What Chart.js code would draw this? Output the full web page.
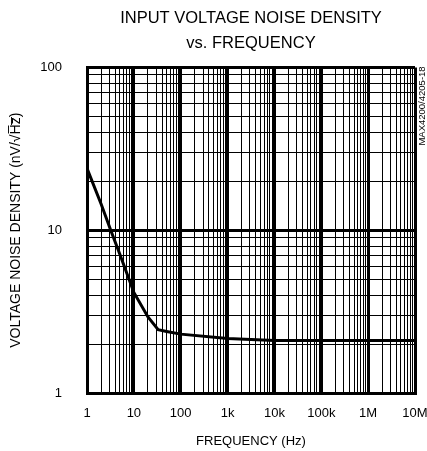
<!DOCTYPE html>
<html>
<head>
<meta charset="utf-8">
<script src="https://cdn.jsdelivr.net/npm/chart.js@4/dist/chart.umd.min.js"></script>
<style>
  html, body { margin: 0; padding: 0; background: #fff; }
  #wrap { position: relative; width: 427px; height: 451px; }
</style>
</head>
<body>
<div id="wrap"><canvas id="c"></canvas></div>
<script>
// ---- data ----
const FREQ_HZ = [1, 2, 3.3, 5, 10, 20, 33, 50, 100, 1000, 10000, 100000, 1000000, 10000000];
const NOISE_NV = [24, 14.5, 9.8, 7.15, 4.15, 2.93, 2.45, 2.39, 2.3, 2.16, 2.1, 2.1, 2.1, 2.1];

const X_DECADES = [1, 10, 100, 1000, 10000, 100000, 1000000, 10000000];
const X_LABELS = ['1', '10', '100', '1k', '10k', '100k', '1M', '10M'];
const Y_DECADES = [1, 10, 100];
const Y_LABELS = ['1', '10', '100'];
const MINOR_STEPS = [2, 3, 4, 5, 6, 7, 8, 9];

const TITLE_LINES = ['INPUT VOLTAGE NOISE DENSITY', 'vs. FREQUENCY'];
const X_TITLE = 'FREQUENCY (Hz)';
const Y_TITLE = 'VOLTAGE NOISE DENSITY (nV/\u221AH\u0305z\u0305)';
const NOTE = 'MAX4200/4205-18';

const FONT = "'Liberation Sans', Arial, Helvetica, sans-serif";

function gridTicks(decades) {
  const out = [];
  decades.forEach((d, i) => {
    out.push({ value: d });
    if (i < decades.length - 1) MINOR_STEPS.forEach(m => out.push({ value: d * m }));
  });
  return out;
}

function lineW(decades) {
  return (ctx) => {
    const v = ctx.tick ? ctx.tick.value : null;
    if (v === decades[0] || v === decades[decades.length - 1]) return 3;
    return decades.includes(v) ? 3 : 1;
  };
}

const notePlugin = {
  id: 'note',
  afterDraw(chart) {
    const c = chart.ctx;
    c.save();
    c.translate(422, 106);
    c.rotate(-Math.PI / 2);
    c.font = '9.5px ' + FONT;
    c.fillStyle = '#000';
    c.textAlign = 'center';
    c.textBaseline = 'middle';
    c.fillText(NOTE, 0, 0);
    c.restore();
  }
};

new Chart(document.getElementById('c'), {
  type: 'line',
  data: {
    datasets: [{
      data: FREQ_HZ.map((f, i) => ({ x: f, y: NOISE_NV[i] })),
      borderColor: '#000',
      borderWidth: 3,
      pointRadius: 0,
      tension: 0,
      fill: false
    }]
  },
  options: {
    responsive: true,
    maintainAspectRatio: false,
    animation: false,
    devicePixelRatio: 1,
    layout: { padding: { left: 0, right: 12, top: 0, bottom: 0 } },
    plugins: {
      legend: { display: false },
      tooltip: { enabled: false },
      title: {
        display: true,
        text: TITLE_LINES,
        fullSize: false,
        color: '#000',
        font: { family: FONT, size: 16.5, weight: 'normal', lineHeight: 1.5 },
        padding: { top: 6, bottom: 12 }
      }
    },
    scales: {
      x: {
        type: 'logarithmic',
        min: 1,
        max: 10000000,
        afterBuildTicks: (s) => { s.ticks = gridTicks(X_DECADES); },
        afterFit: (s) => { s.height = 58; s.paddingLeft = 0; s.paddingRight = 0; },
        ticks: {
          autoSkip: false,
          maxRotation: 0,
          minRotation: 0,
          padding: 13,
          color: '#000',
          font: { family: FONT, size: 13 },
          callback: (v) => { const i = X_DECADES.indexOf(v); return i >= 0 ? X_LABELS[i] : ''; }
        },
        grid: { color: '#000', lineWidth: lineW(X_DECADES), drawTicks: false },
        border: { display: true, color: '#000', width: 3 },
        title: {
          display: true,
          text: X_TITLE,
          color: '#000',
          font: { family: FONT, size: 13 },
          padding: { top: 4, bottom: 2 }
        }
      },
      y: {
        type: 'logarithmic',
        min: 1,
        max: 100,
        afterBuildTicks: (s) => { s.ticks = gridTicks(Y_DECADES); },
        afterFit: (s) => { s.width = 87; s.paddingTop = 0; s.paddingBottom = 0; },
        ticks: {
          autoSkip: false,
          padding: 25,
          color: '#000',
          font: { family: FONT, size: 13 },
          callback: (v) => { const i = Y_DECADES.indexOf(v); return i >= 0 ? Y_LABELS[i] : ''; }
        },
        grid: { color: '#000', lineWidth: lineW(Y_DECADES), drawTicks: false },
        border: { display: true, color: '#000', width: 3 },
        title: {
          display: true,
          text: Y_TITLE,
          color: '#000',
          font: { family: FONT, size: 14 },
          padding: { top: 8, bottom: 4 }
        }
      }
    }
  },
  plugins: [notePlugin]
});
</script>
</body>
</html>
